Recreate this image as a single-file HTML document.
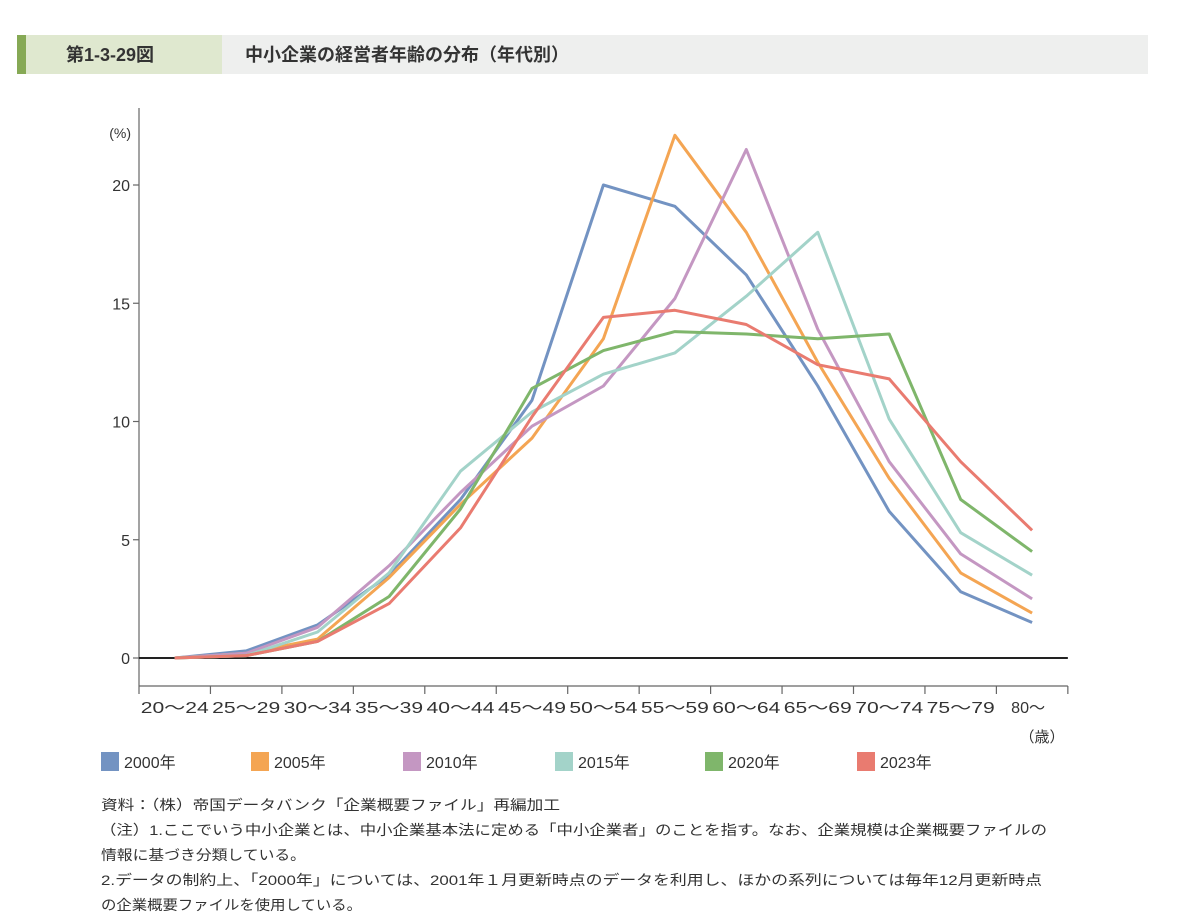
<!DOCTYPE html>
<html><head><meta charset="utf-8"><style>
html,body{margin:0;padding:0;background:#fff;}
svg{display:block;font-family:"Liberation Sans","Noto Sans CJK JP",sans-serif;}
</style></head><body>
<svg width="1182" height="921" viewBox="0 0 1182 921">
<g>
<rect x="17" y="35" width="1131" height="39" fill="#eeefee"/>
<rect x="17" y="35" width="205" height="39" fill="#dfe8cf"/>
<rect x="17" y="35" width="9" height="39" fill="#86a955"/>
<text x="66" y="61" font-size="18" font-weight="bold" fill="#333">第1-3-29図</text>
<text x="245" y="61" font-size="18" font-weight="bold" fill="#333">中小企業の経営者年齢の分布（年代別）</text>
</g>
<g id="plot"></g>
<g id="legend"></g>
<g font-size="14" fill="#333">
<text x="101" y="810" textLength="459" lengthAdjust="spacingAndGlyphs">資料：（株）帝国データバンク「企業概要ファイル」再編加工</text>
<text x="100" y="835" textLength="947" lengthAdjust="spacingAndGlyphs">（注）1.ここでいう中小企業とは、中小企業基本法に定める「中小企業者」のことを指す。なお、企業規模は企業概要ファイルの</text>
<text x="101" y="860" textLength="205" lengthAdjust="spacingAndGlyphs">情報に基づき分類している。</text>
<text x="101" y="885" textLength="941" lengthAdjust="spacingAndGlyphs">2.データの制約上、「2000年」については、2001年１月更新時点のデータを利用し、ほかの系列については毎年12月更新時点</text>
<text x="101" y="910" textLength="261" lengthAdjust="spacingAndGlyphs">の企業概要ファイルを使用している。</text>
</g>
</svg>
<script>
const categories = ["20～24","25～29","30～34","35～39","40～44","45～49","50～54","55～59","60～64","65～69","70～74","75～79","80～"];
const seriesNames = ["2000年","2005年","2010年","2015年","2020年","2023年"];
const s2000 = [0,0.3,1.4,3.5,6.7,10.9,20.0,19.1,16.2,11.5,6.2,2.8,1.5];
const s2005 = [0,0.2,0.8,3.4,6.5,9.3,13.5,22.1,18.0,12.5,7.6,3.6,1.9];
const s2010 = [0,0.2,1.3,3.9,7.0,9.8,11.5,15.2,21.5,13.9,8.3,4.4,2.5];
const s2015 = [0,0.1,1.1,3.6,7.9,10.4,12.0,12.9,15.3,18.0,10.1,5.3,3.5];
const s2020 = [0,0.1,0.7,2.6,6.3,11.4,13.0,13.8,13.7,13.5,13.7,6.7,4.5];
const s2023 = [0,0.1,0.7,2.3,5.5,10.2,14.4,14.7,14.1,12.4,11.8,8.3,5.4];
const yTicks = [0,5,10,15,20];
const colors = ["#7393c2","#f4a553","#c497c2","#a3d3c9","#7fb66b","#e97b70"];
const allSeries = [s2000,s2005,s2010,s2015,s2020,s2023];

const NS = "http://www.w3.org/2000/svg";
const x0 = 139, step = 71.45, yZero = 658, pxPerUnit = 23.65;
const xCat = i => x0 + step * (i + 0.5);
const yVal = v => yZero - v * pxPerUnit;
function mk(tag, attrs, parent){const e=document.createElementNS(NS,tag);for(const k in attrs)e.setAttribute(k,attrs[k]);parent.appendChild(e);return e;}
const plot = document.getElementById('plot');

let ax = mk('line',{x1:x0,y1:108,x2:x0,y2:686,stroke:'#666','stroke-width':1.2},plot);


let bx = mk('line',{x1:x0,y1:686,x2:x0+step*categories.length,y2:686,stroke:'#666','stroke-width':1.2},plot);


let zl = mk('line',{x1:x0,y1:yZero,x2:x0+step*categories.length,y2:yZero,stroke:'#222','stroke-width':2},plot);


let yu = mk('text',{x:131,y:138,'font-size':14,'text-anchor':'end',fill:'#333'},plot);
yu.textContent='(%)';


yTicks.forEach(v=>{
  const y=yVal(v);
  let t=mk('line',{x1:x0-6,y1:y,x2:x0,y2:y,stroke:'#666','stroke-width':1.2},plot);
  
  
  let l=mk('text',{x:x0-9,y:y+6,'font-size':16,'text-anchor':'end',fill:'#333'},plot);
  l.textContent=String(v);
  
  
});
for(let i=0;i<=categories.length;i++){
  const x=x0+step*i;
  let t=mk('line',{x1:x,y1:686,x2:x,y2:694,stroke:'#666','stroke-width':1.2},plot);
  
  
}
categories.forEach((c,i)=>{
  let l=mk('text',{x:xCat(i)+(i===categories.length-1?-4:0),y:713,'font-size':15.5,'text-anchor':'middle',fill:'#333',textLength:(i===categories.length-1?34:68),lengthAdjust:'spacingAndGlyphs'},plot);
  l.textContent=c;
  
  
});
let xu=mk('text',{x:1042,y:742,'font-size':15,'text-anchor':'middle',fill:'#333'},plot);
xu.textContent='（歳）';



allSeries.forEach((s,k)=>{
  const pts=s.map((v,i)=>xCat(i).toFixed(1)+','+yVal(v).toFixed(1)).join(' ');
  let p=mk('polyline',{points:pts,fill:'none',stroke:colors[k],'stroke-width':3,'stroke-linejoin':'round'},plot);
  
  
});

const legend=document.getElementById('legend');
const legX=[101,251,403,555,705,857];
seriesNames.forEach((n,k)=>{
  let r=mk('rect',{x:legX[k],y:752,width:18,height:19,fill:colors[k]},legend);
  
  
  let t=mk('text',{x:legX[k]+23,y:768,'font-size':16,fill:'#333'},legend);
  t.textContent=n;
  
  
});
</script>
</body></html>
